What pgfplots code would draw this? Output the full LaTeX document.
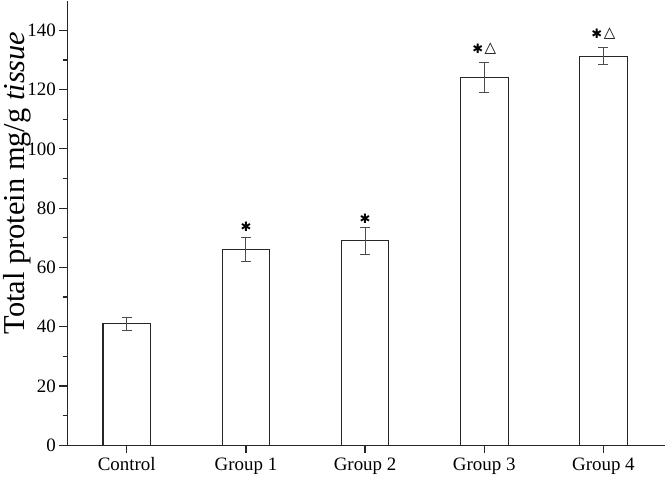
\documentclass[border=0pt]{standalone}
\usepackage{fontspec}
\setmainfont{Liberation Serif}
\newfontfamily\sym{DejaVu Sans}
\usepackage{pgfplots}
\pgfplotsset{compat=1.18}
\newcommand\sigA{{\sym\fontsize{13bp}{13bp}\selectfont ✱}}
\newcommand\sigB{{\sym\fontsize{13bp}{13bp}\selectfont ✱\hspace{1.5bp}\raisebox{1bp}{\fontsize{15bp}{15bp}\selectfont △}}}
\begin{document}
\begin{tikzpicture}
\begin{axis}[
    scale only axis,
    width=600bp, height=446bp,
    xmin=-0.5, xmax=4.52,
    ymin=0, ymax=150,
    axis x line=bottom, axis y line=left,
    axis line style={-, line width=1.3bp, black!85},
    tick align=outside,
    major tick length=8bp, minor tick length=4.5bp,
    tick style={line width=1.2bp, black!85},
    xtick={0,1,2,3,4},
    xticklabels={Control, Group 1, Group 2, Group 3, Group 4},
    ytick={0,20,...,140},
    minor ytick={10,30,...,130},
    ticklabel style={font=\fontsize{19bp}{20bp}\selectfont},
    /pgf/number format/assume math mode=true,
    xticklabel style={yshift=-1bp},
    ylabel={Total protein mg/g \textit{tissue}},
    ylabel style={font=\fontsize{30.5bp}{32bp}\selectfont, at={(ticklabel cs:0.59)}, yshift=-10.5bp},
]
\addplot[ybar, bar width=0.4, fill=white, draw=black!85, line width=1.1bp,
    error bars/.cd, y dir=both, y explicit,
    error bar style={line width=0.9bp, black!70},
    error mark options={rotate=90, mark size=5bp, line width=0.9bp, black!70}]
coordinates {
    (0,41.0) +- (0,2.1)
    (1,66.0) +- (0,4.0)
    (2,69.0) +- (0,4.6)
    (3,124.0) +- (0,5.0)
    (4,131.3) +- (0,2.9)
};
\addplot[draw=none, mark=none, point meta=explicit symbolic,
    nodes near coords, nodes near coords style={anchor=center, inner sep=0pt}]
coordinates {
    (1,73.6) [\sigA]
    (2,76.4) [\sigA]
    (3,133.8) [\sigB]
    (4,138.8) [\sigB]
};
\end{axis}
\end{tikzpicture}
\end{document}
